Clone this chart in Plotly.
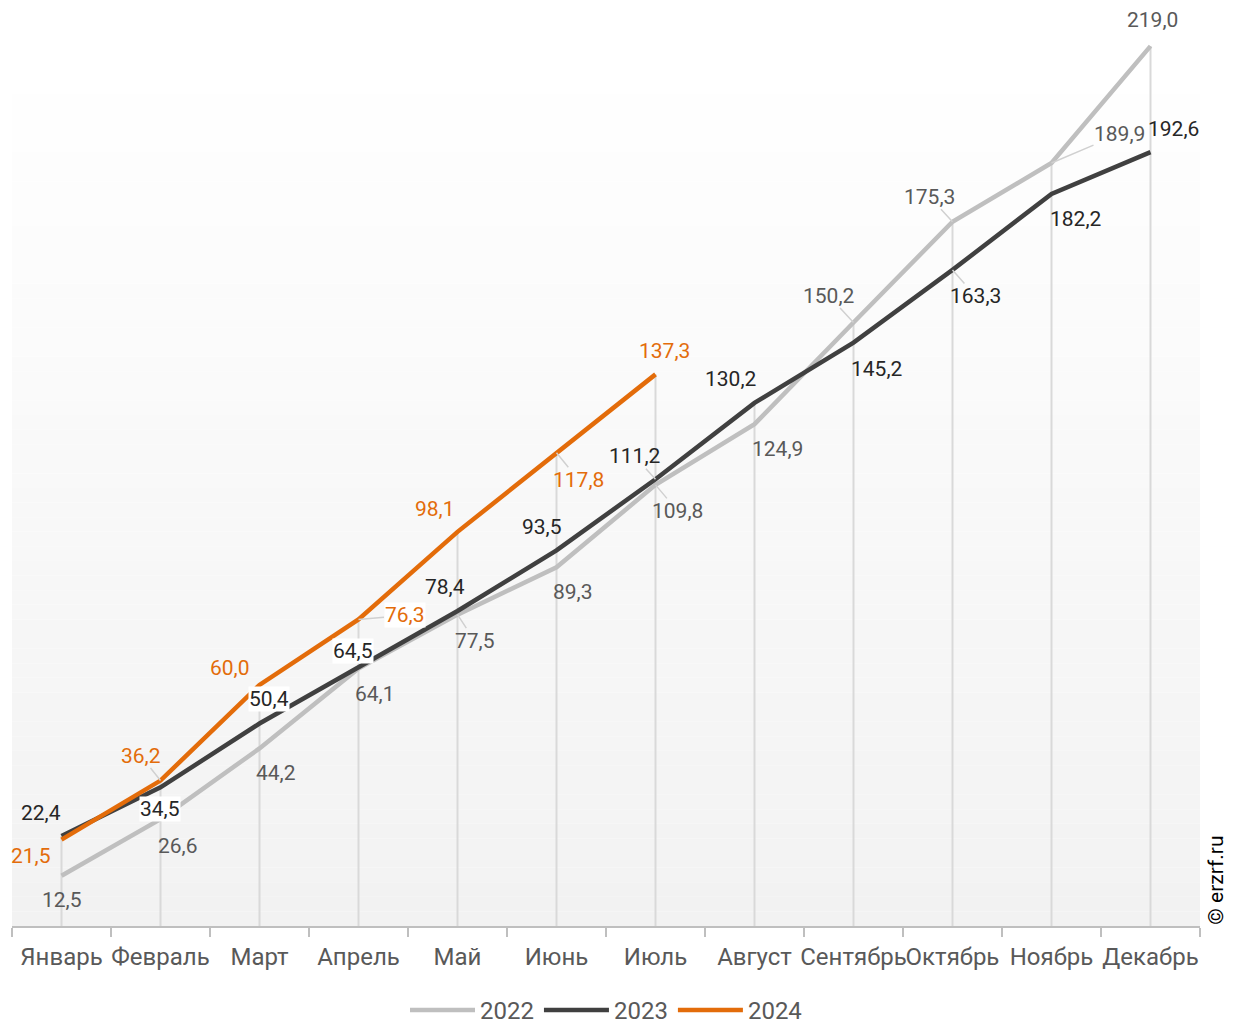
"""
plot.py
Cumulative monthly values 2022-2024 — line chart with drop lines and value labels.
"""
import plotly.graph_objects as go

MONTHS = ["Январь", "Февраль", "Март", "Апрель", "Май", "Июнь", "Июль",
          "Август", "Сентябрь", "Октябрь", "Ноябрь", "Декабрь"]

Y2022 = [12.5, 26.6, 44.2, 64.1, 77.5, 89.3, 109.8, 124.9, 150.2, 175.3, 189.9, 219.0]
Y2023 = [22.4, 34.5, 50.4, 64.5, 78.4, 93.5, 111.2, 130.2, 145.2, 163.3, 182.2, 192.6]
Y2024 = [21.5, 36.2, 60.0, 76.3, 98.1, 117.8, 137.3]

C2022 = "#BFBFBF"
C2023 = "#404040"
C2024 = "#E36C0A"
LEADER = "#D0D0D0"
TEXT = "#595959"

# label offsets in px (dx, dy), leader line flag, white box flag
OFF_2022 = [(0, 24, 0, 0), (17, 27, 0, 0), (16, 25, 0, 0), (16, 26, 0, 0), (17, 26, 1, 0),
            (16, 25, 0, 0), (22, 26, 1, 0), (23, 25, 0, 0), (-25, -27, 1, 0),
            (-23, -25, 1, 0), (68, -29, 1, 0), (2, -26, 0, 0)]
OFF_2023 = [(-21, -23, 0, 0), (-1, 22, 0, 1), (9, -25, 0, 1), (-6, -16, 0, 1),
            (-13, -24, 0, 0), (-15, -23, 0, 0), (-21, -23, 1, 0), (-24, -24, 0, 0),
            (23, 26, 0, 0), (23, 26, 1, 0), (24, 25, 0, 0), (23, -23, 0, 0)]
OFF_2024 = [(-31, 16, 0, 0), (-20, -25, 1, 0), (-30, -17, 0, 0), (46, -4, 1, 1),
            (-23, -23, 0, 0), (22, 27, 1, 0), (9, -23, 0, 0)]

FONT = "Roboto, Arial, sans-serif"

fig = go.Figure()

# gradient plot background (white top -> light grey bottom)
N_BANDS = 60
TOP = 218
for i in range(N_BANDS):
    t = i / (N_BANDS - 1)
    c = int(round(242 + (255 - 242) * t))
    fig.add_shape(type="rect", xref="paper", yref="y", layer="below",
                  x0=0, x1=1, y0=TOP * i / N_BANDS, y1=TOP * (i + 1) / N_BANDS,
                  fillcolor=f"rgb({c},{c},{c})", line_width=0)

# drop lines from highest value in each month down to the axis
top_vals = []
for i, m in enumerate(MONTHS):
    vals = [Y2022[i], Y2023[i]] + ([Y2024[i]] if i < len(Y2024) else [])
    top_vals.append(max(vals))
dx, dy = [], []
for m, v in zip(MONTHS, top_vals):
    dx += [m, m, None]
    dy += [v, 0, None]
fig.add_trace(go.Scatter(x=dx, y=dy, mode="lines", showlegend=False, hoverinfo="skip",
                         line=dict(color="#D9D9D9", width=2), cliponaxis=False))

for name, ys, col in [("2022", Y2022, C2022), ("2023", Y2023, C2023), ("2024", Y2024, C2024)]:
    fig.add_trace(go.Scatter(
        x=MONTHS[:len(ys)], y=ys, name=name, mode="lines",
        line=dict(color=col, width=4.5), cliponaxis=False,
        hovertemplate="%{x}: %{y:.1f}<extra>" + name + "</extra>",
    ))


def fmt(v):
    return f"{v:.1f}".replace(".", ",")


for ys, offs, col in [(Y2022, OFF_2022, TEXT), (Y2023, OFF_2023, "#262626"),
                      (Y2024, OFF_2024, C2024)]:
    for m, v, (ox, oy, lead, box) in zip(MONTHS, ys, offs):
        fig.add_annotation(
            x=m, y=v, text=fmt(v), ax=ox, ay=oy,
            showarrow=True, arrowhead=0, arrowwidth=1.5,
            arrowcolor=LEADER if lead else "rgba(0,0,0,0)",
            font=dict(family=FONT, size=21, color=col),
            bgcolor="white" if box else "rgba(0,0,0,0)", borderpad=0,
        )

fig.add_annotation(
    xref="paper", yref="paper", x=1.0135, y=0.05, xanchor="center", yanchor="middle",
    text="© erzrf.ru", textangle=-90, showarrow=False,
    font=dict(family=FONT, size=21, color="black"),
)

fig.update_layout(
    width=1237, height=1023,
    paper_bgcolor="white", plot_bgcolor="white",
    margin=dict(l=4, r=45, t=10, b=105, autoexpand=False),
    font=dict(family=FONT, color=TEXT, size=20),
    xaxis=dict(type="category", categoryorder="array", categoryarray=MONTHS,
               range=[-0.5, 11.5], showgrid=False, zeroline=False, automargin=False,
               showline=True, linecolor="#BFBFBF", linewidth=2,
               ticks="outside", tickson="boundaries", ticklen=9, tickcolor="#BFBFBF",
               tickwidth=2, ticklabelstandoff=8, tickangle=0,
               tickfont=dict(size=24, color=TEXT, family=FONT)),
    yaxis=dict(range=[0, 226], visible=False, showgrid=False, zeroline=False),
    legend=dict(orientation="h", x=0.5, xanchor="center", y=-0.093, yanchor="middle",
                font=dict(size=24, color=TEXT, family=FONT), bgcolor="rgba(0,0,0,0)",
                itemwidth=65),
    showlegend=True,
)

fig.write_html("out.html")
